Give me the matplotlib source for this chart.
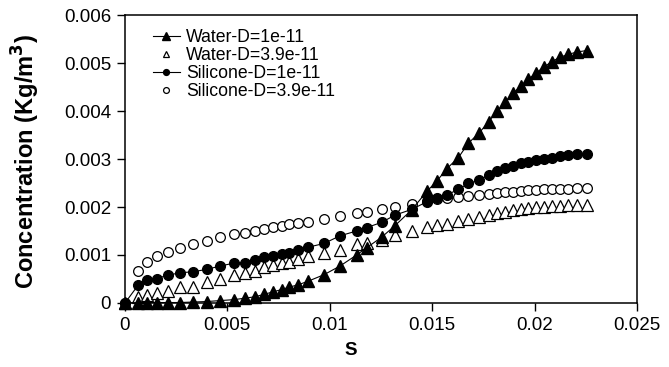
import matplotlib
matplotlib.use("Agg")
import matplotlib.pyplot as plt
import numpy as np

plt.rcParams['font.family'] = ['Liberation Sans', 'DejaVu Sans']

# shared mesh along S
s = [0, 0.00065, 0.00106, 0.00155, 0.00211, 0.00269, 0.00331, 0.00399, 0.00464,
     0.00532, 0.00586, 0.00635, 0.00679, 0.00721, 0.00765, 0.00802, 0.00846,
     0.00892, 0.00972, 0.0105, 0.01131, 0.0118, 0.01253, 0.01318, 0.014, 0.01475,
     0.01523, 0.01572, 0.01628, 0.01677, 0.01731, 0.01776, 0.01816, 0.01858,
     0.01896, 0.01932, 0.01969, 0.02007, 0.02046, 0.02085, 0.02124, 0.02165,
     0.02207, 0.02256]

water_1 = [0, 0.00001, 0.00001, 0.00001, 0.00001, 0.00001, 0.00002, 0.00003, 0.00005,
           0.00007, 0.0001, 0.00013, 0.00018, 0.00023, 0.00028, 0.00033, 0.00038,
           0.00045, 0.00059, 0.00077, 0.001, 0.00115, 0.00137, 0.00161, 0.00194,
           0.00233, 0.00254, 0.0028, 0.00303, 0.00333, 0.00355, 0.00378, 0.00399,
           0.00419, 0.00437, 0.00452, 0.00466, 0.00479, 0.00492, 0.00503, 0.00512,
           0.00518, 0.00523, 0.00526]

water_39 = [0, 0.00013, 0.00017, 0.0002, 0.00026, 0.00033, 0.00034, 0.00044, 0.00051,
            0.00058, 0.00062, 0.00067, 0.00075, 0.00079, 0.00084, 0.00086, 0.00091,
            0.00098, 0.00105, 0.00111, 0.00123, 0.00126, 0.00132, 0.00142, 0.0015,
            0.00159, 0.00162, 0.00165, 0.0017, 0.00176, 0.0018, 0.00183, 0.00187,
            0.0019, 0.00193, 0.00196, 0.00197, 0.00199, 0.00201, 0.00202, 0.00203,
            0.00204, 0.00205, 0.00205]

silicone_1 = [0, 0.000375, 0.00048, 0.00051, 0.00058, 0.00063, 0.00065, 0.0007,
              0.00077, 0.00083, 0.00084, 0.0009, 0.00095, 0.00098, 0.00102, 0.00105,
              0.0011, 0.00116, 0.00124, 0.0014, 0.0015, 0.00157, 0.00168, 0.00183,
              0.00195, 0.00211, 0.00218, 0.00225, 0.00237, 0.00249, 0.00256, 0.00267,
              0.00274, 0.00281, 0.00285, 0.00291, 0.00294, 0.00298, 0.00301, 0.00303,
              0.00306, 0.00308, 0.0031, 0.0031]

silicone_39 = [0, 0.00067, 0.00085, 0.00097, 0.00106, 0.00115, 0.00123, 0.0013,
               0.00138, 0.00143, 0.00145, 0.00151, 0.00154, 0.00159, 0.00161, 0.00164,
               0.00166, 0.00168, 0.00174, 0.00182, 0.00187, 0.00189, 0.00195, 0.00201,
               0.00207, 0.00212, 0.00216, 0.00218, 0.0022, 0.00223, 0.00226, 0.00228,
               0.0023, 0.00231, 0.00232, 0.00234, 0.00235, 0.00236, 0.00237, 0.00237,
               0.00238, 0.00238, 0.00239, 0.0024]

labels = ['Water-D=1e-11', 'Water-D=3.9e-11', 'Silicone-D=1e-11', 'Silicone-D=3.9e-11']

fig = plt.figure(figsize=(6.69, 3.67), dpi=100)
ax = fig.add_axes([0.1868, 0.1744, 0.7653, 0.7847])

ax.plot(s, water_1, '-^', color='black', lw=0.8, ms=8.5, mfc='black', mec='black',
        clip_on=False, zorder=5, label=labels[0])
ax.plot(s, water_39, '^', ms=8, mfc='white', mec='black', mew=0.9,
        clip_on=False, zorder=3, label=labels[1])
ax.plot(s, silicone_1, '-o', color='black', lw=0.8, ms=7, mfc='black', mec='black',
        clip_on=False, zorder=4, label=labels[2])
ax.plot(s, silicone_39, 'o', ms=7, mfc='white', mec='black', mew=0.9,
        clip_on=False, zorder=2, label=labels[3])

ax.set_xlim(0, 0.025)
ax.set_ylim(0, 0.006)
ax.set_xticks([0, 0.005, 0.01, 0.015, 0.02, 0.025])
ax.set_xticklabels(['0', '0.005', '0.01', '0.015', '0.02', '0.025'])
ax.set_yticks([0, 0.001, 0.002, 0.003, 0.004, 0.005, 0.006])
ax.set_yticklabels(['0', '0.001', '0.002', '0.003', '0.004', '0.005', '0.006'])
ax.tick_params(direction='out', length=6, width=1, labelsize=13.5, pad=4)
for sp in ax.spines.values():
    sp.set_linewidth(1.1)

ax.set_xlabel('S', fontsize=13.5, fontweight='bold', va='top')
ax.xaxis.set_label_coords(0.441, -0.135)
ax.set_ylabel('Concentration (Kg/m$^\\mathbf{3}$)', fontsize=17, fontweight='bold')
ax.yaxis.set_label_coords(-0.163, 0.49)

ax.legend(loc='upper left', bbox_to_anchor=(0.055, 0.952), frameon=False, fontsize=12.7,
          markerscale=0.6, handlelength=1.5, handletextpad=0.35, labelspacing=0.06,
          borderpad=0, borderaxespad=0)

fig.savefig('out.png', dpi=100)
